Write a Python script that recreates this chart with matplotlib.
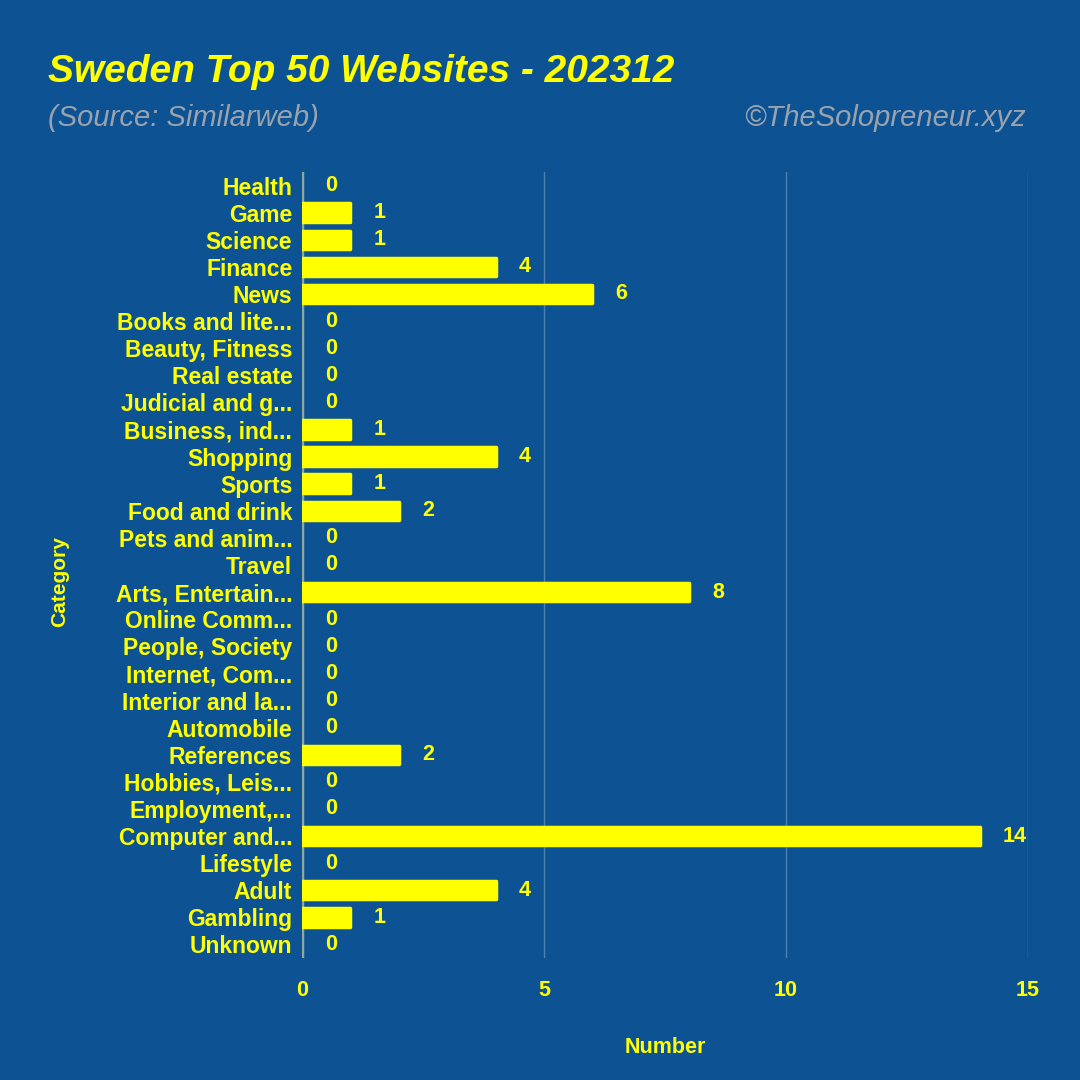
import matplotlib.pyplot as plt

categories = ['Health', 'Game', 'Science', 'Finance', 'News', 'Books and lite...',
              'Beauty, Fitness', 'Real estate', 'Judicial and g...', 'Business, ind...',
              'Shopping', 'Sports', 'Food and drink', 'Pets and anim...', 'Travel',
              'Arts, Entertain...', 'Online Comm...', 'People, Society', 'Internet, Com...',
              'Interior and la...', 'Automobile', 'References', 'Hobbies, Leis...',
              'Employment,...', 'Computer and...', 'Lifestyle', 'Adult', 'Gambling', 'Unknown']
counts = [0, 1, 1, 4, 6, 0, 0, 0, 0, 1, 4, 1, 2, 0, 0, 8, 0, 0, 0, 0, 0, 2, 0, 0, 14, 0, 4, 1, 0]
xticks = [0, 5, 10, 15]

bg = '#0d5394'
yellow = '#ffff00'
grey = '#9aa3ad'

plt.rcParams['font.family'] = ['Liberation Sans', 'DejaVu Sans']

fig = plt.figure(figsize=(10.8, 10.8), dpi=100, facecolor=bg)
ax = fig.add_axes([302/1080, 1 - 958/1080, (1028 - 302)/1080, (958 - 172)/1080])
ax.set_facecolor(bg)

ypos = list(range(len(categories)))
# thin edge with round joins only on real bars, so zero rows stay empty
ax.barh(ypos, counts, height=0.68, color=yellow, edgecolor=yellow,
        linewidth=[2.5 if v else 0 for v in counts], joinstyle='round', zorder=3)
for y, v in zip(ypos, counts):
    ax.text(v + 0.48, y, str(v), color=yellow, fontsize=15.5, fontweight='bold',
            va='center', ha='left', zorder=4)

ax.set_ylim(len(categories) - 0.5, -0.5)
ax.set_xlim(0, 15)
ax.set_yticks(ypos)
ax.set_yticklabels(categories, color=yellow, fontsize=16.5, fontweight='bold')
ax.set_xticks(xticks)
ax.set_xticklabels([str(t) for t in xticks], color=yellow, fontsize=15.5, fontweight='bold')
ax.tick_params(axis='both', length=0)
ax.tick_params(axis='y', pad=7)
ax.tick_params(axis='x', pad=16)
ax.grid(axis='x', color='#4d7fb0', linewidth=1, zorder=0)
ax.axvline(0, color='#8fa8a0', linewidth=2.5, zorder=2)
for s in ax.spines.values():
    s.set_visible(False)

ax.set_xlabel('Number', color=yellow, fontsize=15.5, fontweight='bold', labelpad=26)
fig.text(60/1080, 1 - 582/1080, 'Category', color=yellow, fontsize=15, fontweight='bold',
         rotation=90, ha='center', va='center')

fig.text(48/1080, 1 - 72/1080, 'Sweden Top 50 Websites - 202312', color=yellow, fontsize=28,
         fontweight='bold', fontstyle='italic', ha='left', va='center')
fig.text(48/1080, 1 - 118/1080, '(Source: Similarweb)', color=grey, fontsize=21,
         fontstyle='italic', ha='left', va='center')
fig.text(1026/1080, 1 - 118/1080, '\u00a9TheSolopreneur.xyz', color=grey, fontsize=21,
         fontstyle='italic', ha='right', va='center')

fig.savefig('out.png', dpi=100, facecolor=bg)
